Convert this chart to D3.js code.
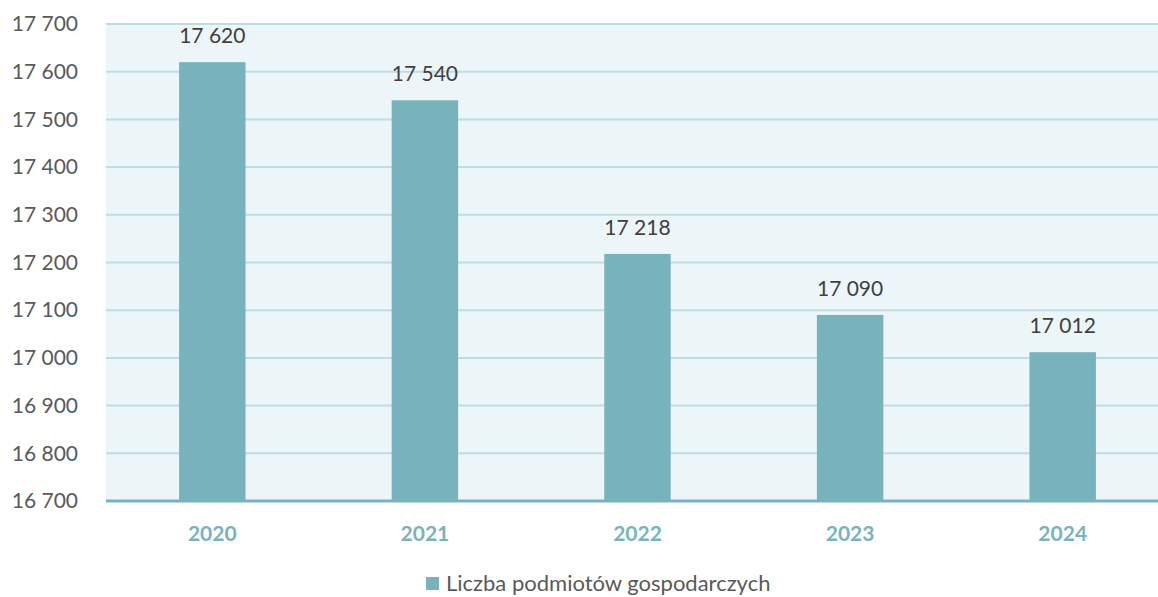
<!DOCTYPE html>
<html><head><meta charset="utf-8">
<script src="https://cdn.jsdelivr.net/npm/d3@7"></script>
<style>body{margin:0;background:#fff}svg{display:block}</style>
</head><body>
<svg id="c" width="1158" height="597"></svg>
<script>
const categories = ["2020","2021","2022","2023","2024"];
const values = [17620, 17540, 17218, 17090, 17012];
const yTicks = [16700,16800,16900,17000,17100,17200,17300,17400,17500,17600,17700];
const seriesName = "Liczba podmiotów gospodarczych";

const W = 1158, H = 597;
const plot = {left: 106, right: 1169, top: 24, bottom: 501};
const font = "Lato, 'Open Sans', sans-serif";
const svg = d3.select("#c");
const fmt = v => d3.format(",")(v).replace(/,/g, " ");

const x = d3.scaleBand().domain(categories).range([plot.left, plot.right])
  .paddingInner(0.6875).paddingOuter(0.34375);
const y = d3.scaleLinear().domain([16700, 17700]).range([plot.bottom, plot.top]);

svg.append("rect").attr("x", plot.left).attr("y", plot.top)
  .attr("width", W - plot.left).attr("height", plot.bottom - plot.top).attr("fill", "#ECF5F7");

svg.append("g").selectAll("line").data(yTicks.slice(1)).join("line")
  .attr("x1", plot.left).attr("x2", W).attr("y1", d => y(d)).attr("y2", d => y(d))
  .attr("stroke", "#BEDDE3").attr("stroke-width", 2);

const yAxis = svg.append("g").attr("transform", `translate(${plot.left},0)`)
  .call(d3.axisLeft(y).tickValues(yTicks).tickFormat(fmt).tickSize(0).tickPadding(28));
yAxis.select(".domain").remove();
yAxis.selectAll("text").attr("font-family", font).attr("font-size", 21).attr("fill", "#595959");

svg.append("g").selectAll("rect").data(values).join("rect")
  .attr("x", (d, i) => x(categories[i])).attr("width", x.bandwidth())
  .attr("y", d => y(d)).attr("height", d => plot.bottom - y(d))
  .attr("fill", "#78B3BD");

svg.append("g").selectAll("text").data(values).join("text")
  .attr("x", (d, i) => x(categories[i]) + x.bandwidth() / 2)
  .attr("y", d => y(d) - 19).attr("text-anchor", "middle")
  .attr("font-family", font).attr("font-size", 21).attr("fill", "#404040")
  .text(fmt);

svg.append("line").attr("x1", plot.left).attr("x2", W)
  .attr("y1", plot.bottom).attr("y2", plot.bottom)
  .attr("stroke", "#78B3BD").attr("stroke-width", 3);

const xAxis = svg.append("g").attr("transform", `translate(0,${plot.bottom})`)
  .call(d3.axisBottom(x).tickSize(0).tickPadding(25));
xAxis.select(".domain").remove();
xAxis.selectAll("text").attr("font-family", font).attr("font-size", 21)
  .attr("font-weight", "bold").attr("fill", "#78B3BD");

const lg = svg.append("g");
lg.append("rect").attr("x", 426).attr("y", 577).attr("width", 13).attr("height", 13).attr("fill", "#78B3BD");
lg.append("text").attr("x", 446).attr("y", 591).attr("font-family", font).attr("font-size", 22)
  .attr("fill", "#595959").text(seriesName);
</script>
</body></html>
